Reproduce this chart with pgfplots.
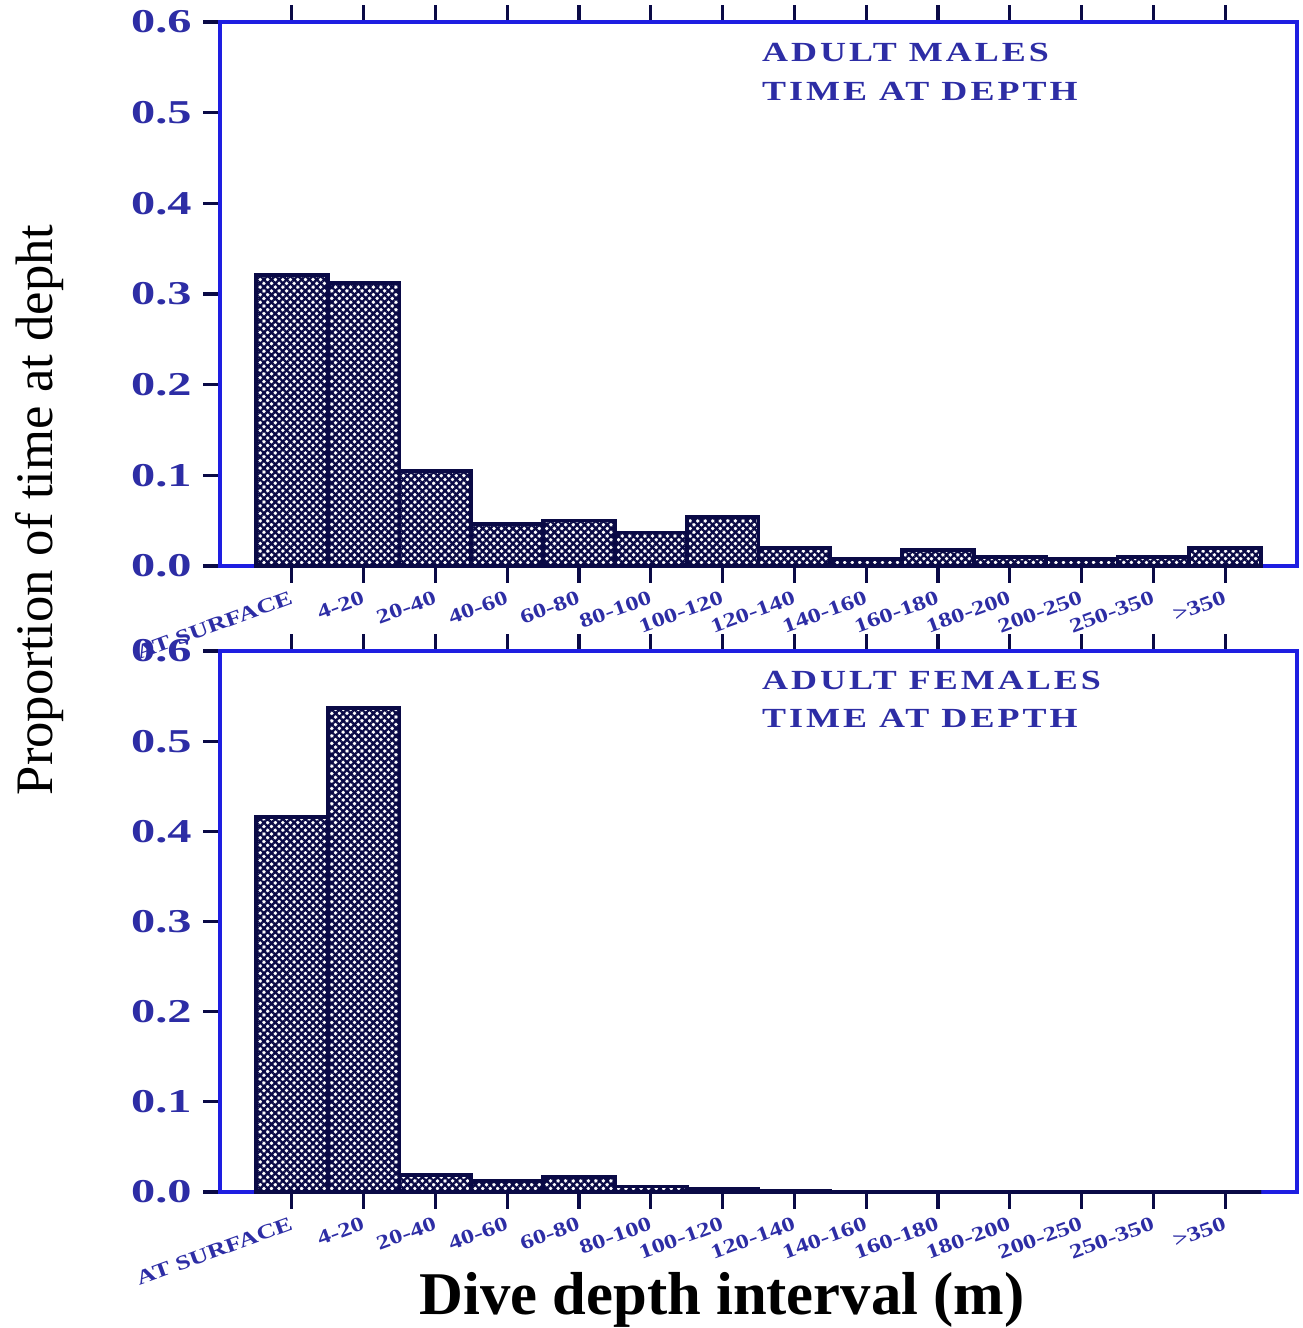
\documentclass[border=0pt]{standalone}
\usepackage{fontspec}
\setmainfont{Liberation Serif}
\newfontfamily\widefont[FakeStretch=1.3]{Liberation Serif}
\newfontfamily\widerfont[FakeStretch=1.45]{Liberation Serif}
\usepackage{pgfplots}
\usepackage{pgfplotstable}
\pgfplotsset{compat=1.18}
\usetikzlibrary{patterns.meta}
\definecolor{axblue}{RGB}{30,30,225}
\definecolor{txtblue}{RGB}{45,45,165}
\definecolor{barnavy}{RGB}{10,10,70}

\pgfplotstableread{
x males females
0  0.321 0.416
1  0.312 0.537
2  0.105 0.019
3  0.046 0.012
4  0.050 0.017
5  0.037 0.006
6  0.054 0.004
7  0.020 0.001
8  0.008 0.0
9  0.018 0.0
10 0.010 0.0
11 0.008 0.0
12 0.010 0.0
13 0.020 0.0
}\data

\tikzset{
  ttl/.style={anchor=west, inner sep=0pt, text=txtblue, font=\widefont\bfseries\fontsize{8.3}{9}\selectfont\addfontfeature{LetterSpace=11}},
}
\pgfplotsset{
  panel/.style={
    scale only axis, width=323.1pt, anchor=south west,
    xmin=-1, xmax=14, ymin=0, ymax=0.6,
    ytick={0,0.1,0.2,0.3,0.4,0.5,0.6},
    /pgf/number format/assume math mode=true,
    yticklabel style={/pgf/number format/fixed,/pgf/number format/fixed zerofill,/pgf/number format/precision=1,
      font=\widerfont\bfseries\fontsize{10}{10}\selectfont, text=txtblue},
    xtick={0,...,13},
    xticklabels={AT SURFACE,4-20,20-40,40-60,60-80,80-100,100-120,120-140,140-160,160-180,180-200,200-250,250-350,>350},
    xticklabel style={rotate=20, anchor=east, font=\widefont\bfseries\fontsize{6.1}{7}\selectfont, text=txtblue, yshift=-4pt, xshift=2pt},
    xtick pos=both, ytick pos=left, tick align=outside,
    major tick length=5pt,
    axis line style={axblue, line width=1pt},
    every tick/.style={barnavy, line width=1pt},
    ybar, bar width=1,
    clip=false,
  },
  bars/.style={draw=barnavy, line width=1.1pt, fill=white,
    postaction={pattern={Hatch[angle=45,distance=1.6pt,line width=0.7pt]}, pattern color=barnavy}},
}

\begin{document}
\begin{tikzpicture}
\path[use as bounding box] (0,0) rectangle (390.6pt,398.4pt);
\begin{axis}[panel, at={(66pt,228.6pt)}, height=163.2pt]
  \addplot[bars] table[x=x,y=males]{\data};
  \node[ttl] at (axis cs:6.54,0.566) {ADULT MALES};
  \node[ttl] at (axis cs:6.54,0.523) {TIME AT DEPTH};
\end{axis}
\begin{axis}[panel, at={(66pt,40.8pt)}, height=162.3pt]
  \addplot[bars] table[x=x,y=females]{\data};
  \node[ttl] at (axis cs:6.54,0.567) {ADULT FEMALES};
  \node[ttl] at (axis cs:6.54,0.525) {TIME AT DEPTH};
\end{axis}
\node[rotate=90, font=\fontsize{15.8}{16}\selectfont] at (12pt,245.4pt) {Proportion of time at depht};
\node[font=\bfseries\fontsize{18.2}{18}\selectfont] at (216.6pt,8.4pt) {Dive depth interval (m)};
\end{tikzpicture}
\end{document}
